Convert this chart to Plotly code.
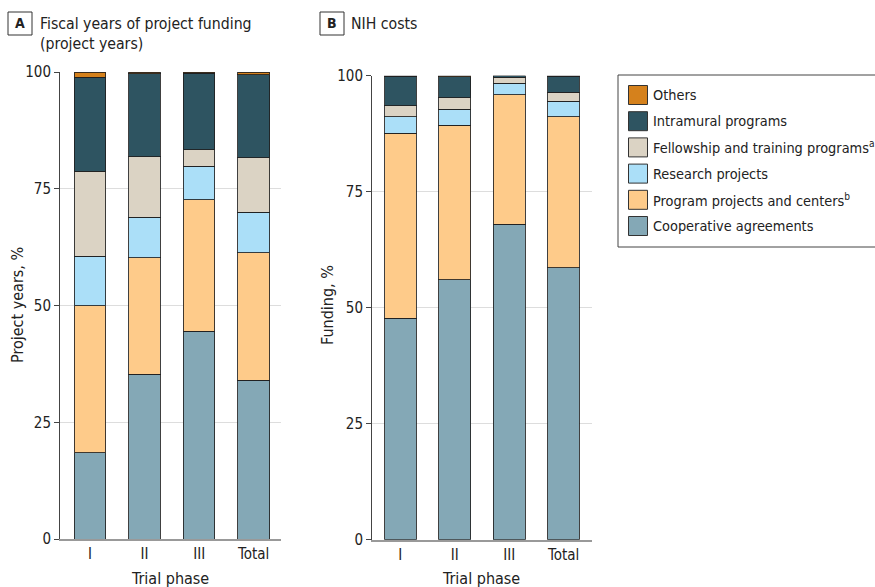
import plotly.graph_objects as go

# ---- data ----
phases = ["I", "II", "III", "Total"]
series_names = ["Cooperative agreements", "Program projects and centers<sup>b</sup>",
                "Research projects", "Fellowship and training programs<sup>a</sup>",
                "Intramural programs", "Others"]
# Panel A: project years, %
a_coop = [18.5, 35.3, 44.5, 34.0]
a_prog = [31.5, 24.9, 28.1, 27.3]
a_research = [10.6, 8.7, 7.2, 8.7]
a_fellow = [18.2, 13.0, 3.5, 11.6]
a_intra = [20.1, 17.7, 16.4, 17.8]
a_others = [1.1, 0.4, 0.3, 0.6]
# Panel B: NIH costs (funding), %
b_coop = [47.7, 56.0, 68.0, 58.6]
b_prog = [39.9, 33.3, 27.9, 32.6]
b_research = [3.6, 3.5, 2.5, 3.3]
b_fellow = [2.3, 2.5, 1.3, 1.9]
b_intra = [6.4, 4.5, 0.3, 3.5]
b_others = [0.1, 0.2, 0.0, 0.1]
y_ticks = [0, 25, 50, 75, 100]

colors = ["#84A8B6", "#FECB8A", "#ABDFF8", "#DBD3C4", "#2E5461", "#D5811C"]
legend_order = [5, 4, 3, 2, 1, 0]

W, H = 875, 587
FONT = "Liberation Sans Narrow, DejaVu Sans Condensed, sans-serif"
TXT = "#222222"

def px(x):
    return x / W

def py(y):
    return 1 - y / H

fig = go.Figure()
a_vals = [a_coop, a_prog, a_research, a_fellow, a_intra, a_others]
b_vals = [b_coop, b_prog, b_research, b_fellow, b_intra, b_others]
for i, name in enumerate(series_names):
    fig.add_trace(go.Bar(x=phases, y=a_vals[i], name=name, marker_color=colors[i],
                         marker_line=dict(color="rgba(30,30,30,0.85)", width=1),
                         xaxis="x", yaxis="y", showlegend=False))
    fig.add_trace(go.Bar(x=phases, y=b_vals[i], name=name, marker_color=colors[i],
                         marker_line=dict(color="rgba(30,30,30,0.85)", width=1),
                         xaxis="x2", yaxis="y2", showlegend=False))

xcommon = dict(type="category", showgrid=False, ticks="", showline=True, automargin=False,
               linecolor="#999999", linewidth=2,
               tickfont=dict(family=FONT, size=15, color=TXT))
ycommon = dict(range=[0, 100], tickvals=y_ticks, showgrid=True, gridcolor="#DDDDDD",
               gridwidth=1, zeroline=False, showline=True, linecolor="#444444",
               linewidth=1, ticks="outside", ticklen=5, tickcolor="#444444", automargin=False,
               tickfont=dict(family=FONT, size=15, color=TXT))

fig.update_layout(
    template="none",
    width=W, height=H, margin=dict(l=0, r=0, t=0, b=0, autoexpand=False),
    paper_bgcolor="white", plot_bgcolor="white",
    barmode="stack", bargap=0.42,
    xaxis=dict(domain=[px(60), px(281)], range=[-0.55, 3.5], anchor="y", **xcommon),
    yaxis=dict(domain=[py(539), py(72)], anchor="x", **ycommon),
    xaxis2=dict(domain=[px(372), px(592)], range=[-0.52, 3.52], anchor="y2", **xcommon),
    yaxis2=dict(domain=[py(539.7), py(75.7)], anchor="x2", **ycommon),
    font=dict(family=FONT, color=TXT),
)

shapes = []
annotations = []

# panel labels
for lbl, x0, title, tx in [("A", 8, "Fiscal years of project funding<br>(project years)", 38),
                            ("B", 320, "NIH costs", 349)]:
    shapes.append(dict(type="rect", xref="paper", yref="paper",
                       x0=px(x0), x1=px(x0 + 24), y0=py(35), y1=py(12),
                       line=dict(color="#333333", width=1)))
    annotations.append(dict(xref="paper", yref="paper", x=px(x0 + 12), y=py(23.5),
                            text="<b>%s</b>" % lbl, showarrow=False,
                            font=dict(family=FONT, size=14, color=TXT),
                            xanchor="center", yanchor="middle"))
    annotations.append(dict(xref="paper", yref="paper", x=px(tx), y=py(12),
                            text=title, showarrow=False, align="left",
                            font=dict(family=FONT, size=15.7, color=TXT),
                            xanchor="left", yanchor="top"))

# axis titles
annotations.append(dict(xref="paper", yref="paper", x=px(170), y=py(578), text="Trial phase",
                        showarrow=False, font=dict(family=FONT, size=16, color=TXT),
                        xanchor="center", yanchor="middle"))
annotations.append(dict(xref="paper", yref="paper", x=px(481), y=py(578), text="Trial phase",
                        showarrow=False, font=dict(family=FONT, size=16, color=TXT),
                        xanchor="center", yanchor="middle"))
annotations.append(dict(xref="paper", yref="paper", x=px(17), y=py(305), text="Project years, %",
                        showarrow=False, textangle=-90, font=dict(family=FONT, size=16, color=TXT),
                        xanchor="center", yanchor="middle"))
annotations.append(dict(xref="paper", yref="paper", x=px(327), y=py(305), text="Funding, %",
                        showarrow=False, textangle=-90, font=dict(family=FONT, size=16, color=TXT),
                        xanchor="center", yanchor="middle"))

# legend box
shapes.append(dict(type="rect", xref="paper", yref="paper", x0=px(618), x1=px(880),
                   y0=py(247), y1=py(75), line=dict(color="#444444", width=1)))
for row, idx in enumerate(legend_order):
    yc = 95 + row * 26.2
    shapes.append(dict(type="rect", xref="paper", yref="paper",
                       x0=px(628.5), x1=px(647.5), y0=py(yc + 9.5), y1=py(yc - 9.5),
                       fillcolor=colors[idx], line=dict(color="#333333", width=1)))
    annotations.append(dict(xref="paper", yref="paper", x=px(651), y=py(yc),
                            text=series_names[idx], showarrow=False,
                            font=dict(family=FONT, size=14.4, color=TXT),
                            xanchor="left", yanchor="middle"))

fig.update_layout(shapes=shapes, annotations=annotations)
fig.write_html("out.html", config={"displayModeBar": False},
               post_script="document.body.style.margin='0';document.body.style.overflow='hidden';")
